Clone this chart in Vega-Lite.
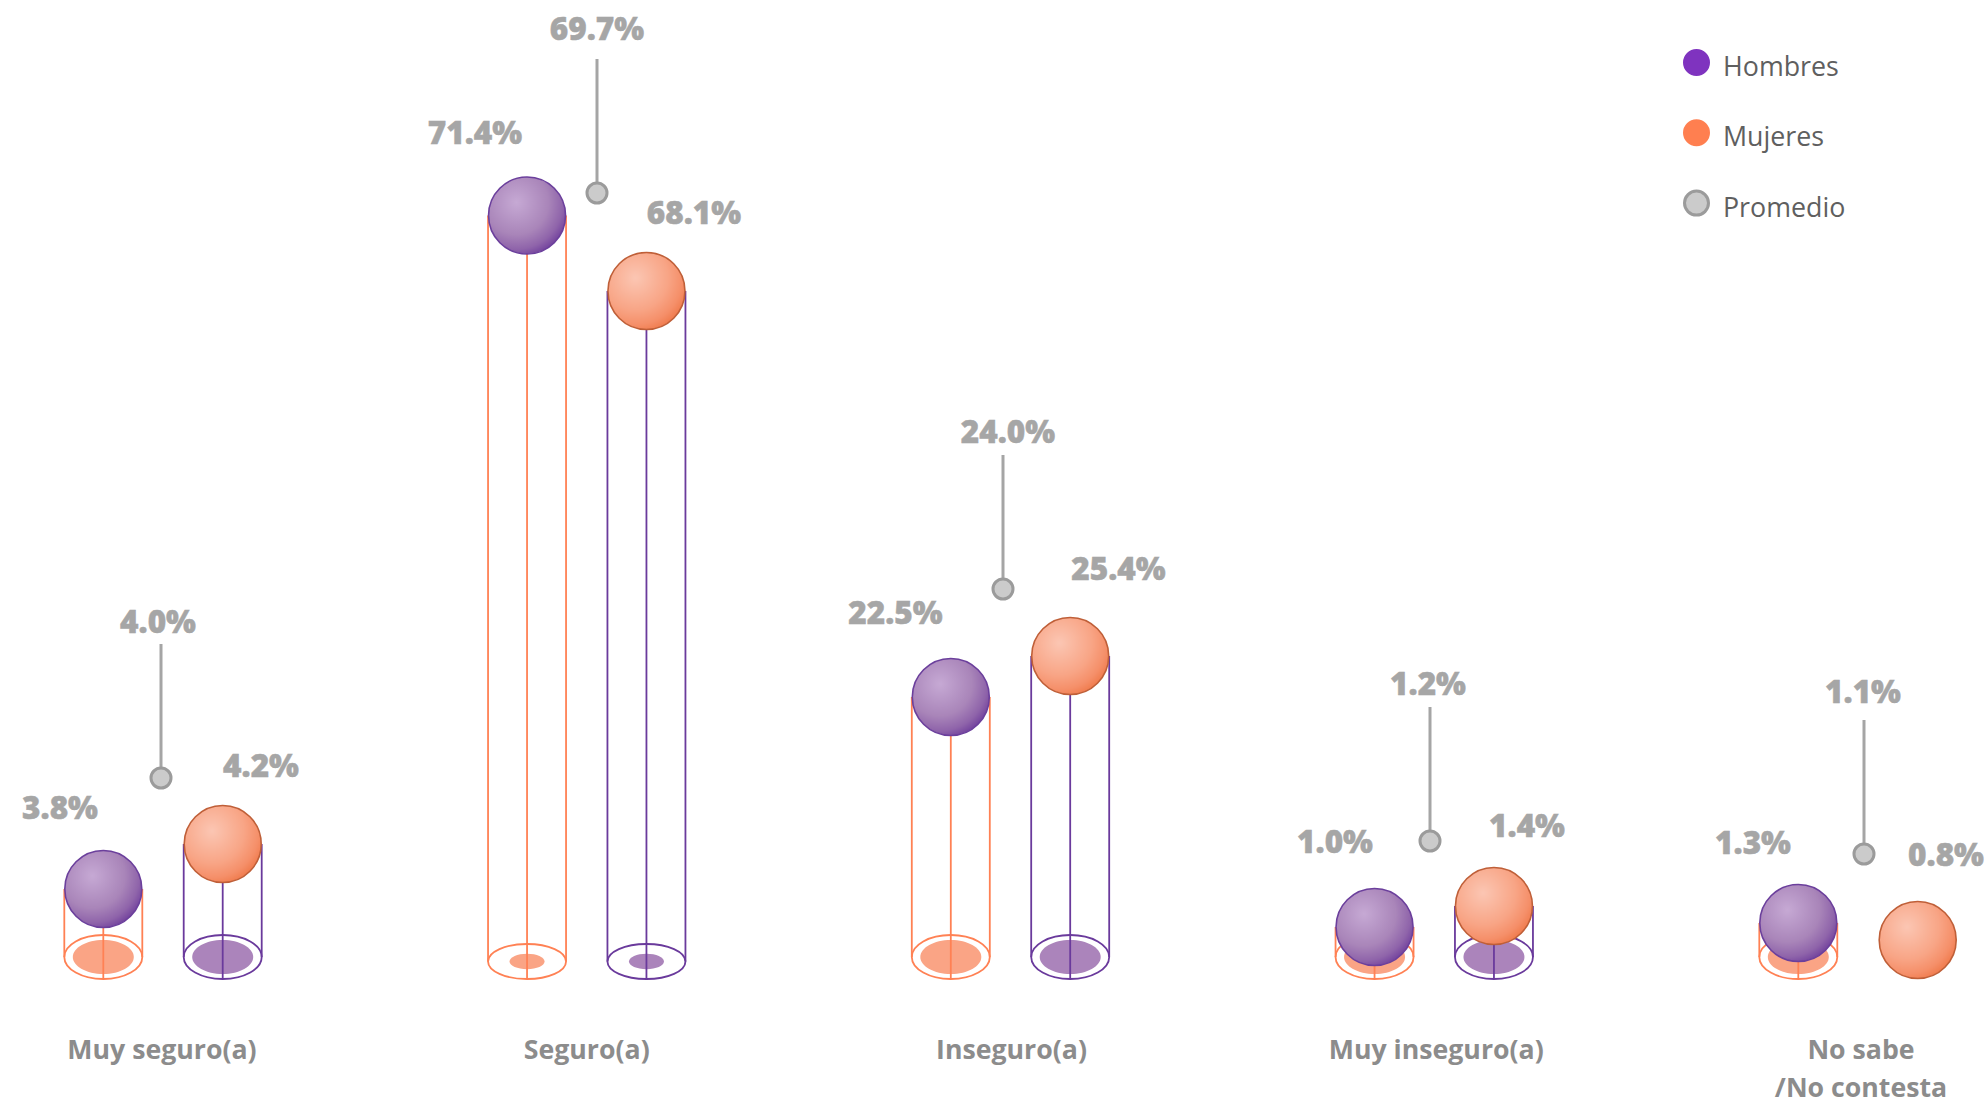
{
"$schema":"https://vega.github.io/schema/vega-lite/v6.json",
"width":1986,"height":1101,"padding":0,
"autosize":{"type":"none"},
"background":"#ffffff",
"view":{"stroke":null},
"data":{"values":[
{"categoria":"Muy seguro(a)","orden":1,"serie":"Hombres","valor":0.038},
{"categoria":"Muy seguro(a)","orden":1,"serie":"Mujeres","valor":0.042},
{"categoria":"Muy seguro(a)","orden":1,"serie":"Promedio","valor":0.04},
{"categoria":"Seguro(a)","orden":2,"serie":"Hombres","valor":0.714},
{"categoria":"Seguro(a)","orden":2,"serie":"Mujeres","valor":0.681},
{"categoria":"Seguro(a)","orden":2,"serie":"Promedio","valor":0.697},
{"categoria":"Inseguro(a)","orden":3,"serie":"Hombres","valor":0.225},
{"categoria":"Inseguro(a)","orden":3,"serie":"Mujeres","valor":0.254},
{"categoria":"Inseguro(a)","orden":3,"serie":"Promedio","valor":0.24},
{"categoria":"Muy inseguro(a)","orden":4,"serie":"Hombres","valor":0.01},
{"categoria":"Muy inseguro(a)","orden":4,"serie":"Mujeres","valor":0.014},
{"categoria":"Muy inseguro(a)","orden":4,"serie":"Promedio","valor":0.012},
{"categoria":"No sabe\n/No contesta","orden":5,"serie":"Hombres","valor":0.013},
{"categoria":"No sabe\n/No contesta","orden":5,"serie":"Mujeres","valor":0.008},
{"categoria":"No sabe\n/No contesta","orden":5,"serie":"Promedio","valor":0.011}
]},
"resolve":{"scale":{"x":"independent","y":"independent","fill":"independent","stroke":"independent","shape":"independent"},"axis":{"x":"independent","y":"independent"},"legend":{"fill":"independent","stroke":"independent"}},
"layer":[
{
"mark":{"type":"point","filled":true,"opacity":0,"size":100},
"encoding":{
"x":{"field":"categoria","type":"nominal","sort":null,"scale":{"type":"point","padding":0,"domain":["Muy seguro(a)","Seguro(a)","Inseguro(a)","Muy inseguro(a)","No sabe\n/No contesta"],"range":[161.5,1860.5]},
"title":null,
"axis":{"orient":"bottom","offset":-75,"domain":false,"ticks":false,"grid":false,"labelAngle":0,"labelFont":"Open Sans","labelFontSize":26.7,"labelFontWeight":700,"labelColor":"#8c8c8c","labelPadding":11,"labelLimit":0,"labelOverlap":false,"labelFlush":false,"labelLineHeight":38,"labelBaseline":"top","labelExpr":"split(datum.label,'\\n')"}},
"fill":{"field":"serie","type":"nominal","scale":{"domain":["Hombres","Mujeres","Promedio"],"range":["#7f33bf","#ff7f50","#cbcbcb"]},
"legend":{"orient":"none","legendX":1683,"legendY":49,"title":null,"symbolOpacity":1,"symbolSize":576,"symbolStrokeWidth":3,"labelFont":"Open Sans","labelFontSize":26.8,"labelColor":"#5f5f5f","rowPadding":32.3,"labelOffset":13,"symbolType":"circle","encode":{"labels":{"update":{"dy":{"value":5.5}}}}}},
"stroke":{"field":"serie","type":"nominal","scale":{"domain":["Hombres","Mujeres","Promedio"],"range":["#7f33bf","#ff7f50","#9b9b9b"]},"legend":{"orient":"none","legendX":1683,"legendY":49,"title":null,"symbolOpacity":1,"symbolSize":576,"symbolStrokeWidth":3,"labelFont":"Open Sans","labelFontSize":26.8,"labelColor":"#5f5f5f","rowPadding":32.3,"labelOffset":13,"symbolType":"circle","encode":{"labels":{"update":{"dy":{"value":5.5}}}}}}
}
},
{
"transform":[{"filter":"datum.serie!='Promedio'"}],
"resolve":{"scale":{"shape":"independent","xOffset":"independent"}},
"encoding":{
"x":{"field":"categoria","type":"nominal","sort":null,"axis":null,"scale":{"type":"point","padding":0,"domain":["Muy seguro(a)","Seguro(a)","Inseguro(a)","Muy inseguro(a)","No sabe\n/No contesta"],"range":[163,1858]}},
"xOffset":{"field":"serie","type":"nominal","scale":{"type":"point","padding":0,"domain":["Hombres","Mujeres"],"range":[-59.7,59.7]}}
},
"layer":[
{"transform":[{"filter":"datum.valor>=0.01"}],
 "mark":{"type":"point","filled":true,"opacity":1,"size":6084,"strokeWidth":0},
 "encoding":{
 "y":{"datum":0,"type":"quantitative","axis":null,"scale":{"domain":[0,0.008,0.01,0.013,0.014,0.038,0.042,0.225,0.254,0.681,0.714],"range":[979,940,927,923,906,889,844,697,656,291,215.5],"zero":false,"nice":false}},
 "shape":{"field":"categoria","type":"nominal","legend":null,"scale":{"domain":["Muy seguro(a)","Seguro(a)","Inseguro(a)","Muy inseguro(a)","No sabe\n/No contesta"],"range":[
  "M-.782 -.564C-.782 -.8048 -.4319 -1 0 -1C.4319 -1 .782 -.8048 .782 -.564C.782 -.3232 .4319 -.128 0 -.128C-.4319 -.128 -.782 -.3232 -.782 -.564Z",
  "M-.449 -.449C-.449 -.5578 -.248 -.646 0 -.646C.248 -.646 .449 -.5578 .449 -.449C.449 -.3402 .248 -.252 0 -.252C-.248 -.252 -.449 -.3402 -.449 -.449Z",
  "M-.782 -.564C-.782 -.8048 -.4319 -1 0 -1C.4319 -1 .782 -.8048 .782 -.564C.782 -.3232 .4319 -.128 0 -.128C-.4319 -.128 -.782 -.3232 -.782 -.564Z",
  "M-.782 -.564C-.782 -.8048 -.4319 -1 0 -1C.4319 -1 .782 -.8048 .782 -.564C.782 -.3232 .4319 -.128 0 -.128C-.4319 -.128 -.782 -.3232 -.782 -.564Z",
  "M-.782 -.564C-.782 -.8048 -.4319 -1 0 -1C.4319 -1 .782 -.8048 .782 -.564C.782 -.3232 .4319 -.128 0 -.128C-.4319 -.128 -.782 -.3232 -.782 -.564Z"]}},
 "fill":{"field":"serie","type":"nominal","legend":null,"scale":{"domain":["Hombres","Mujeres"],"range":["#faa485","#ab84bb"]}}
 }},
{"transform":[{"filter":"datum.valor>=0.01"}],
 "mark":{"type":"point","filled":false,"opacity":1,"size":6084,"strokeWidth":1.8},
 "encoding":{
 "y":{"datum":0,"type":"quantitative","axis":null,"scale":{"domain":[0,0.008,0.01,0.013,0.014,0.038,0.042,0.225,0.254,0.681,0.714],"range":[979,940,927,923,906,889,844,697,656,291,215.5],"zero":false,"nice":false}},
 "shape":{"field":"categoria","type":"nominal","legend":null,"scale":{"domain":["Muy seguro(a)","Seguro(a)","Inseguro(a)","Muy inseguro(a)","No sabe\n/No contesta"],"range":[
  "M-1 -.564C-1 -.8755 -.5523 -1.128 0 -1.128C.5523 -1.128 1 -.8755 1 -.564C1 -.2525 .5523 0 0 0C-.5523 0 -1 -.2525 -1 -.564Z",
  "M-1 -.449C-1 -.697 -.5523 -.898 0 -.898C.5523 -.898 1 -.697 1 -.449C1 -.201 .5523 0 0 0C-.5523 0 -1 -.201 -1 -.449Z",
  "M-1 -.564C-1 -.8755 -.5523 -1.128 0 -1.128C.5523 -1.128 1 -.8755 1 -.564C1 -.2525 .5523 0 0 0C-.5523 0 -1 -.2525 -1 -.564Z",
  "M-1 -.564C-1 -.8755 -.5523 -1.128 0 -1.128C.5523 -1.128 1 -.8755 1 -.564C1 -.2525 .5523 0 0 0C-.5523 0 -1 -.2525 -1 -.564Z",
  "M-1 -.564C-1 -.8755 -.5523 -1.128 0 -1.128C.5523 -1.128 1 -.8755 1 -.564C1 -.2525 .5523 0 0 0C-.5523 0 -1 -.2525 -1 -.564Z"]}},
 "stroke":{"field":"serie","type":"nominal","legend":null,"scale":{"domain":["Hombres","Mujeres"],"range":["#ff8154","#6a3a9c"]}}
 }},
{"transform":[{"filter":"datum.valor>=0.01"}],
 "mark":{"type":"rule","strokeWidth":1.8},
 "encoding":{
 "y":{"field":"valor","type":"quantitative","axis":null,"scale":{"domain":[0,0.008,0.01,0.013,0.014,0.038,0.042,0.225,0.254,0.681,0.714],"range":[979,940,927,923,906,889,844,697,656,291,215.5],"zero":false,"nice":false}},
 "y2":{"datum":0},
 "stroke":{"field":"serie","type":"nominal","legend":null,"scale":{"domain":["Hombres","Mujeres"],"range":["#ff8154","#6a3a9c"]}}
 }},
{"transform":[{"filter":"datum.valor>=0.01 && datum.orden!=2"}],
 "mark":{"type":"rule","strokeWidth":1.8,"y2Offset":-22},
 "encoding":{
 "xOffset":{"field":"serie","type":"nominal","scale":{"type":"point","padding":0,"domain":["Hombres","Mujeres"],"range":[-98.7,20.7]}},
 "y":{"field":"valor","type":"quantitative","axis":null,"scale":{"domain":[0,0.008,0.01,0.013,0.014,0.038,0.042,0.225,0.254,0.681,0.714],"range":[979,940,927,923,906,889,844,697,656,291,215.5],"zero":false,"nice":false}},
 "y2":{"datum":0},
 "stroke":{"field":"serie","type":"nominal","legend":null,"scale":{"domain":["Hombres","Mujeres"],"range":["#ff8154","#6a3a9c"]}}
 }},
{"transform":[{"filter":"datum.valor>=0.01 && datum.orden!=2"}],
 "mark":{"type":"rule","strokeWidth":1.8,"y2Offset":-22},
 "encoding":{
 "xOffset":{"field":"serie","type":"nominal","scale":{"type":"point","padding":0,"domain":["Hombres","Mujeres"],"range":[-20.7,98.7]}},
 "y":{"field":"valor","type":"quantitative","axis":null,"scale":{"domain":[0,0.008,0.01,0.013,0.014,0.038,0.042,0.225,0.254,0.681,0.714],"range":[979,940,927,923,906,889,844,697,656,291,215.5],"zero":false,"nice":false}},
 "y2":{"datum":0},
 "stroke":{"field":"serie","type":"nominal","legend":null,"scale":{"domain":["Hombres","Mujeres"],"range":["#ff8154","#6a3a9c"]}}
 }},
{"transform":[{"filter":"datum.orden==2"}],
 "mark":{"type":"rule","strokeWidth":1.8,"y2Offset":-17.5},
 "encoding":{
 "xOffset":{"field":"serie","type":"nominal","scale":{"type":"point","padding":0,"domain":["Hombres","Mujeres"],"range":[-98.7,20.7]}},
 "y":{"field":"valor","type":"quantitative","axis":null,"scale":{"domain":[0,0.008,0.01,0.013,0.014,0.038,0.042,0.225,0.254,0.681,0.714],"range":[979,940,927,923,906,889,844,697,656,291,215.5],"zero":false,"nice":false}},
 "y2":{"datum":0},
 "stroke":{"field":"serie","type":"nominal","legend":null,"scale":{"domain":["Hombres","Mujeres"],"range":["#ff8154","#6a3a9c"]}}
 }},
{"transform":[{"filter":"datum.orden==2"}],
 "mark":{"type":"rule","strokeWidth":1.8,"y2Offset":-17.5},
 "encoding":{
 "xOffset":{"field":"serie","type":"nominal","scale":{"type":"point","padding":0,"domain":["Hombres","Mujeres"],"range":[-20.7,98.7]}},
 "y":{"field":"valor","type":"quantitative","axis":null,"scale":{"domain":[0,0.008,0.01,0.013,0.014,0.038,0.042,0.225,0.254,0.681,0.714],"range":[979,940,927,923,906,889,844,697,656,291,215.5],"zero":false,"nice":false}},
 "y2":{"datum":0},
 "stroke":{"field":"serie","type":"nominal","legend":null,"scale":{"domain":["Hombres","Mujeres"],"range":["#ff8154","#6a3a9c"]}}
 }},
{"transform":[{"filter":"datum.serie=='Hombres'"}],
 "mark":{"type":"point","shape":"circle","filled":true,"opacity":1,"size":5929,"stroke":"#6b3f9c","strokeWidth":1.6,
 "fill":{"gradient":"radial","x1":0.36,"y1":0.33,"r1":0,"x2":0.36,"y2":0.33,"r2":0.76,"stops":[{"offset":0,"color":"#c6a9d4"},{"offset":0.55,"color":"#a985b9"},{"offset":0.8,"color":"#8f64aa"},{"offset":1,"color":"#693799"}]}},
 "encoding":{
 "y":{"field":"valor","type":"quantitative","axis":null,"scale":{"domain":[0,0.008,0.01,0.013,0.014,0.038,0.042,0.225,0.254,0.681,0.714],"range":[979,940,927,923,906,889,844,697,656,291,215.5],"zero":false,"nice":false}}
 }},
{"transform":[{"filter":"datum.serie=='Mujeres'"}],
 "mark":{"type":"point","shape":"circle","filled":true,"opacity":1,"size":5929,"stroke":"#bf5f38","strokeWidth":1.6,
 "fill":{"gradient":"radial","x1":0.36,"y1":0.33,"r1":0,"x2":0.36,"y2":0.33,"r2":0.76,"stops":[{"offset":0,"color":"#fbc6b3"},{"offset":0.55,"color":"#f8a586"},{"offset":0.8,"color":"#f58f69"},{"offset":1,"color":"#ee7443"}]}},
 "encoding":{
 "y":{"field":"valor","type":"quantitative","axis":null,"scale":{"domain":[0,0.008,0.01,0.013,0.014,0.038,0.042,0.225,0.254,0.681,0.714],"range":[979,940,927,923,906,889,844,697,656,291,215.5],"zero":false,"nice":false}}
 }}
]
},
{
"transform":[{"filter":"datum.serie=='Promedio'"}],
"encoding":{
"x":{"field":"orden","type":"quantitative","axis":null,"scale":{"domain":[1,2,3,4,5],"range":[161,597,1003,1430,1864],"zero":false,"nice":false}},
"y":{"field":"valor","type":"quantitative","axis":null,"scale":{"domain":[0.011,0.012,0.04,0.24,0.697],"range":[854,841,778,589,193],"zero":false,"nice":false}}
},
"layer":[
{"mark":{"type":"rule","color":"#a5a5a5","strokeWidth":3,"y2Offset":-134},"encoding":{"y2":{"field":"valor"}}},
{"mark":{"type":"point","shape":"circle","filled":true,"opacity":1,"size":400,"fill":"#cbcbcb","stroke":"#9b9b9b","strokeWidth":3}}
]
},
{
"transform":[{"filter":"datum.serie=='Promedio'"}],
"mark":{"type":"text","font":"Open Sans","fontSize":31.5,"fontWeight":800,"color":"#a6a6a6","stroke":"#a6a6a6","strokeWidth":0.5,"align":"center","baseline":"middle","dy":1.5},
"encoding":{
"x":{"field":"orden","type":"quantitative","axis":null,"scale":{"domain":[1,2,3,4,5],"range":[158,597,1008,1428,1863],"zero":false,"nice":false}},
"y":{"field":"valor","type":"quantitative","axis":null,"scale":{"domain":[0.011,0.012,0.04,0.24,0.697],"range":[692,684,622,432,29],"zero":false,"nice":false}},
"text":{"field":"valor","type":"quantitative","format":".1%"}
}
},
{
"transform":[{"filter":"datum.serie=='Hombres'"}],
"mark":{"type":"text","font":"Open Sans","fontSize":31.5,"fontWeight":800,"color":"#a6a6a6","stroke":"#a6a6a6","strokeWidth":0.5,"align":"center","baseline":"middle","dy":1.5},
"encoding":{
"x":{"field":"orden","type":"quantitative","axis":null,"scale":{"domain":[1,2,3,4,5],"range":[60,475,895.5,1335,1753],"zero":false,"nice":false}},
"y":{"field":"valor","type":"quantitative","axis":null,"scale":{"domain":[0.01,0.013,0.038,0.225,0.714],"range":[842,843,808.5,613,133],"zero":false,"nice":false}},
"text":{"field":"valor","type":"quantitative","format":".1%"}
}
},
{
"transform":[{"filter":"datum.serie=='Mujeres'"}],
"mark":{"type":"text","font":"Open Sans","fontSize":31.5,"fontWeight":800,"color":"#a6a6a6","stroke":"#a6a6a6","strokeWidth":0.5,"align":"center","baseline":"middle","dy":1.5},
"encoding":{
"x":{"field":"orden","type":"quantitative","axis":null,"scale":{"domain":[1,2,3,4,5],"range":[261,694,1118.5,1527,1946],"zero":false,"nice":false}},
"y":{"field":"valor","type":"quantitative","axis":null,"scale":{"domain":[0.008,0.014,0.042,0.254,0.681],"range":[855,826,766,569,213],"zero":false,"nice":false}},
"text":{"field":"valor","type":"quantitative","format":".1%"}
}
}
]
}
